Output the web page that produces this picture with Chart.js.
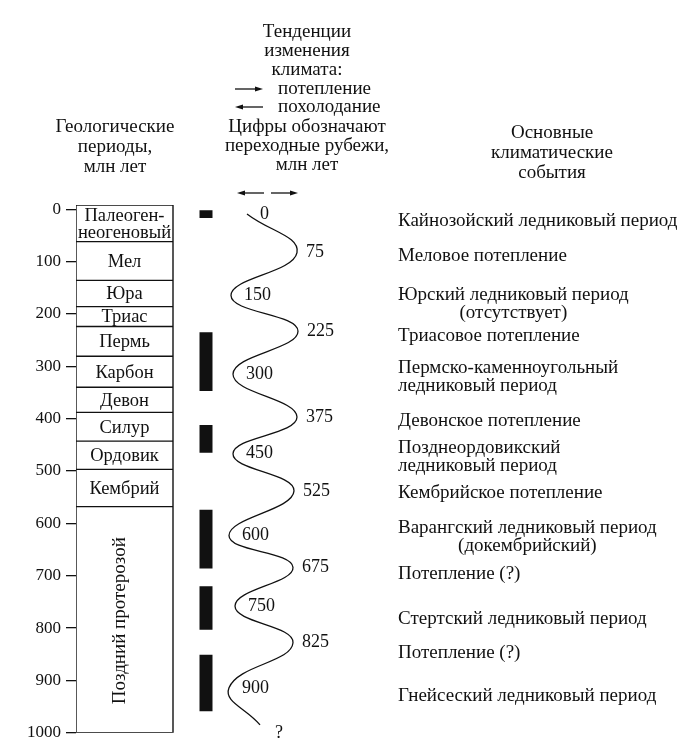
<!DOCTYPE html>
<html lang="ru">
<head>
<meta charset="utf-8">
<title>Климатические события</title>
<script src="https://cdn.jsdelivr.net/npm/chart.js@4.4.1/dist/chart.umd.min.js"></script>
<style>
  html, body { margin: 0; padding: 0; background: #fff; }
  .wrap { position: relative; width: 699px; height: 748px; }
</style>
</head>
<body>
<div class="wrap"><canvas id="climateCanvas"></canvas></div>
<script>
// Геологические периоды: границы, млн лет (как нарисовано)
const periodNames  = [['Палеоген-', 'неогеновый'], ['Мел'], ['Юра'], ['Триас'], ['Пермь'], ['Карбон'],
                      ['Девон'], ['Силур'], ['Ордовик'], ['Кембрий'], ['Поздний протерозой']];
const periodBounds = [0, 62, 136, 186, 224, 281, 340, 388, 443, 497, 568, 1000];

// Ледниковые интервалы (чёрные полосы), млн лет
const glacialFrom = [2, 235, 412, 574, 720, 851];
const glacialTo   = [17, 347, 465, 686, 803, 959];

// Кривая тенденций климата: переходные рубежи
const waveLabels = ['0', '75', '150', '225', '300', '375', '450', '525', '600', '675', '750', '825', '900', '?'];
const waveAge    = [9, 83, 165, 233, 315, 397, 467, 538, 623, 684, 758, 828, 914, 985];
const waveTrend  = [171, 221, 155, 222, 157, 221, 157, 218, 153, 217, 159, 217, 153, 184];

// Основные климатические события
const eventNames = [
  ['Кайнозойский ледниковый период'],
  ['Меловое потепление'],
  ['Юрский ледниковый период', '(отсутствует)'],
  ['Триасовое потепление'],
  ['Пермско-каменноугольный', 'ледниковый период'],
  ['Девонское потепление'],
  ['Позднеордовикский', 'ледниковый период'],
  ['Кембрийское потепление'],
  ['Варангский ледниковый период', '(докембрийский)'],
  ['Потепление (?)'],
  ['Стертский ледниковый период'],
  ['Потепление (?)'],
  ['Гнейсеский ледниковый период']
];
const eventAge = [22, 90, 163, 243, 303, 404, 457, 543, 609, 697, 782, 847, 929];

const yTicks = [0, 100, 200, 300, 400, 500, 600, 700, 800, 900, 1000];

// layout (x-units = px right of the axis)
const axisTop = -8;
const colLeft = 0, colRight = 97, glacialX = 130, eventX = 322;
const ink = '#111';
const SERIF = "'Liberation Serif', 'DejaVu Serif', serif";
const TEXT_FONT = '19px ' + SERIF;
const PERIOD_FONT = '18.5px ' + SERIF;
const NUM_FONT = '18px ' + SERIF;

const GAP = { x: null, y: null };

// period column outline
const boxData = [
  { x: colLeft, y: axisTop }, { x: colRight, y: axisTop },
  { x: colRight, y: 1000 }, { x: colLeft, y: 1000 }, { x: colLeft, y: axisTop }
];
periodBounds.slice(1, -1).forEach(b => {
  boxData.push(GAP, { x: colLeft, y: b }, { x: colRight, y: b });
});

const glacialData = [];
glacialFrom.forEach((f, i) => {
  glacialData.push({ x: glacialX, y: f }, { x: glacialX, y: glacialTo[i] }, GAP);
});

const waveData = waveAge.map((a, i) => ({ x: waveTrend[i], y: a }));

function arrow(ctx, x1, x2, yy) {
  const dir = x2 > x1 ? 1 : -1;
  ctx.beginPath();
  ctx.moveTo(x1, yy);
  ctx.lineTo(x2 - dir * 6, yy);
  ctx.stroke();
  ctx.beginPath();
  ctx.moveTo(x2, yy);
  ctx.lineTo(x2 - dir * 8, yy - 2.5);
  ctx.lineTo(x2 - dir * 8, yy + 2.5);
  ctx.closePath();
  ctx.fill();
}

const textPlugin = {
  id: 'texts',
  afterDatasetsDraw(chart) {
    const { ctx, scales: { x, y } } = chart;
    ctx.save();
    ctx.fillStyle = ink;
    ctx.strokeStyle = ink;
    ctx.lineWidth = 1.3;
    ctx.textBaseline = 'middle';

    // period names inside the column
    const cx = x.getPixelForValue((colLeft + colRight) / 2);
    ctx.textAlign = 'center';
    periodNames.forEach((lines, i) => {
      const top = y.getPixelForValue(i === 0 ? axisTop : periodBounds[i]);
      const bot = y.getPixelForValue(periodBounds[i + 1]);
      const mid = (top + bot) / 2 + 1;
      if (i === periodNames.length - 1) {
        ctx.font = TEXT_FONT;
        ctx.save();
        ctx.translate(cx - 4, mid);
        ctx.rotate(-Math.PI / 2);
        ctx.fillText(lines[0], 0, 0);
        ctx.restore();
        return;
      }
      ctx.font = PERIOD_FONT;
      lines.forEach((t, j) => ctx.fillText(t, cx, mid + (j - (lines.length - 1) / 2) * 17));
    });

    // wave labels
    ctx.font = NUM_FONT;
    ctx.textAlign = 'left';
    waveLabels.forEach((t, i) => {
      const px = x.getPixelForValue(waveTrend[i]);
      const py = y.getPixelForValue(waveAge[i]);
      if (i === waveLabels.length - 1) {
        ctx.fillText(t, px + 15, py + 8);
      } else if (waveTrend[i] > 190) {
        ctx.fillText(t, px + 9, py);
      } else {
        ctx.fillText(t, px + 13, py);
      }
    });

    // events
    ctx.font = TEXT_FONT;
    const ex = x.getPixelForValue(eventX);
    eventNames.forEach((lines, i) => {
      const py = y.getPixelForValue(eventAge[i]);
      const w0 = ctx.measureText(lines[0]).width;
      lines.forEach((t, j) => {
        if (t.startsWith('(') && j > 0) {
          ctx.textAlign = 'center';
          ctx.fillText(t, ex + w0 / 2, py + j * 18);
        } else {
          ctx.textAlign = 'left';
          ctx.fillText(t, ex, py + j * 18);
        }
      });
    });

    // headers
    ctx.textAlign = 'center';
    ['Геологические', 'периоды,', 'млн лет'].forEach((t, j) => ctx.fillText(t, 115, 127 + j * 20));
    ['Тенденции', 'изменения', 'климата:'].forEach((t, j) => ctx.fillText(t, 307, 32 + j * 19));
    ['Цифры обозначают', 'переходные рубежи,', 'млн лет'].forEach((t, j) => ctx.fillText(t, 307, 127 + j * 19));
    ['Основные', 'климатические', 'события'].forEach((t, j) => ctx.fillText(t, 552, 133 + j * 20));
    ctx.textAlign = 'left';
    arrow(ctx, 235, 263, 89);
    ctx.fillText('потепление', 278, 89);
    arrow(ctx, 263, 235, 107);
    ctx.fillText('похолодание', 278, 107);
    arrow(ctx, 264, 237, 193);
    arrow(ctx, 271, 298, 193);
    ctx.restore();
  }
};

new Chart(document.getElementById('climateCanvas'), {
  type: 'scatter',
  data: {
    datasets: [
      {
        label: 'Периоды',
        data: boxData,
        showLine: true,
        spanGaps: false,
        borderColor: ink,
        borderWidth: 1.4,
        pointRadius: 0,
        tension: 0
      },
      {
        label: 'Ледниковые периоды',
        data: glacialData,
        showLine: true,
        spanGaps: false,
        borderColor: ink,
        borderWidth: 13,
        borderCapStyle: 'butt',
        pointRadius: 0,
        tension: 0
      },
      {
        label: 'Тенденции климата',
        data: waveData,
        showLine: true,
        borderColor: ink,
        borderWidth: 1.3,
        pointRadius: 0,
        tension: 0.45
      }
    ]
  },
  options: {
    responsive: true,
    maintainAspectRatio: false,
    animation: false,
    layout: { padding: { left: 0, top: 205, right: 0, bottom: 13 } },
    plugins: {
      legend: { display: false },
      tooltip: { enabled: false }
    },
    scales: {
      x: { type: 'linear', display: false, min: 0, max: 623 },
      y: {
        type: 'linear',
        reverse: true,
        min: axisTop,
        max: 1000,
        afterBuildTicks: s => { s.ticks = yTicks.map(v => ({ value: v })); },
        afterFit: s => { s.width = 76; },
        grid: { drawOnChartArea: false, drawTicks: true, tickLength: 10, color: ink, lineWidth: 1.3 },
        border: { display: false },
        ticks: { color: ink, font: { family: SERIF, size: 17 }, padding: 5, callback: v => String(v) }
      }
    }
  },
  plugins: [textPlugin]
});
</script>
</body>
</html>
